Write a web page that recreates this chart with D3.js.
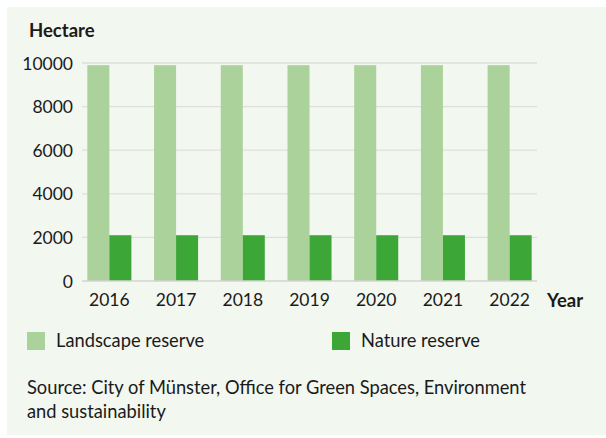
<!DOCTYPE html>
<html>
<head>
<meta charset="utf-8">
<script src="https://cdn.jsdelivr.net/npm/d3@7"></script>
<style>
  html, body { margin: 0; padding: 0; background: #ffffff; }
  svg { display: block; }
  text { font-family: Lato, "Open Sans", sans-serif; fill: #1a1a1a; }
</style>
</head>
<body>
<svg id="chart" width="606" height="438"></svg>
<script>
// Protected areas in Münster, hectares per year
const years = ["2016", "2017", "2018", "2019", "2020", "2021", "2022"];
const landscapeReserve = [9900, 9900, 9900, 9900, 9900, 9900, 9900];
const natureReserve = [2100, 2100, 2100, 2100, 2100, 2100, 2100];
const yTicks = [0, 2000, 4000, 6000, 8000, 10000];
const seriesNames = ["Landscape reserve", "Nature reserve"];
const seriesColors = ["#acd29b", "#3ca637"];

const svg = d3.select("#chart");

// panel background
svg.append("rect")
  .attr("x", 7).attr("y", 7)
  .attr("width", 599).attr("height", 428)
  .attr("fill", "#f2f7f0");

const plot = { left: 82, right: 537, top: 63, bottom: 281 };

const x = d3.scaleBand()
  .domain(years)
  .range([plot.left, plot.right])
  .paddingInner(0.34)
  .paddingOuter(0.08);

const xSub = d3.scaleBand()
  .domain(seriesNames)
  .range([0, x.bandwidth()]);

const y = d3.scaleLinear()
  .domain([0, 10000])
  .range([plot.bottom, plot.top]);

// horizontal grid lines
svg.append("g")
  .selectAll("line")
  .data(yTicks.filter(d => d > 0))
  .join("line")
  .attr("x1", plot.left).attr("x2", plot.right)
  .attr("y1", d => y(d)).attr("y2", d => y(d))
  .attr("stroke", "#dedfdc").attr("stroke-width", 1.3);

// y axis labels
const yAxis = d3.axisLeft(y).tickValues(yTicks).tickSize(0).tickPadding(9).tickFormat(d3.format("d"));
const gy = svg.append("g").attr("transform", `translate(${plot.left},0)`).call(yAxis);
gy.select(".domain").remove();
gy.selectAll("text").style("font-size", "17.5px").attr("fill", "#1a1a1a").attr("dy", "0.35em");

// bars
const rows = years.map((yr, i) => ({ year: yr, values: [landscapeReserve[i], natureReserve[i]] }));
const groups = svg.append("g").selectAll("g")
  .data(rows)
  .join("g")
  .attr("transform", d => `translate(${x(d.year)},0)`);

groups.selectAll("rect")
  .data(d => d.values.map((v, k) => ({ v, k })))
  .join("rect")
  .attr("x", d => xSub(seriesNames[d.k]))
  .attr("width", xSub.bandwidth())
  .attr("y", d => y(d.v))
  .attr("height", d => y(0) - y(d.v))
  .attr("fill", d => seriesColors[d.k]);

// baseline
svg.append("line")
  .attr("x1", plot.left).attr("x2", plot.right)
  .attr("y1", y(0)).attr("y2", y(0))
  .attr("stroke", "#d2d4d0").attr("stroke-width", 1.5);

// x axis labels
const xAxis = d3.axisBottom(x).tickSize(0).tickPadding(13);
const gx = svg.append("g").attr("transform", `translate(0,${plot.bottom})`).call(xAxis);
gx.select(".domain").remove();
gx.selectAll("text").style("font-size", "17.5px").attr("fill", "#1a1a1a");

// axis titles
svg.append("text").attr("x", 29).attr("y", 37)
  .style("font-size", "18.5px").style("font-weight", "bold").text("Hectare");
svg.append("text").attr("x", 547).attr("y", 307)
  .style("font-size", "18.5px").style("font-weight", "bold").text("Year");

// legend
const legendX = [27, 332];
const legend = svg.append("g").selectAll("g")
  .data(seriesNames)
  .join("g")
  .attr("transform", (d, i) => `translate(${legendX[i]},332)`);
legend.append("rect").attr("width", 18).attr("height", 18)
  .attr("fill", (d, i) => seriesColors[i]);
legend.append("text").attr("x", 29).attr("y", 15)
  .style("font-size", "18.3px").text(d => d);

// source note
const source = ["Source: City of Münster, Office for Green Spaces, Environment", "and sustainability"];
svg.append("g").selectAll("text")
  .data(source)
  .join("text")
  .attr("x", 27).attr("y", (d, i) => 394 + i * 24)
  .style("font-size", "18.3px")
  .text(d => d);
</script>
</body>
</html>
